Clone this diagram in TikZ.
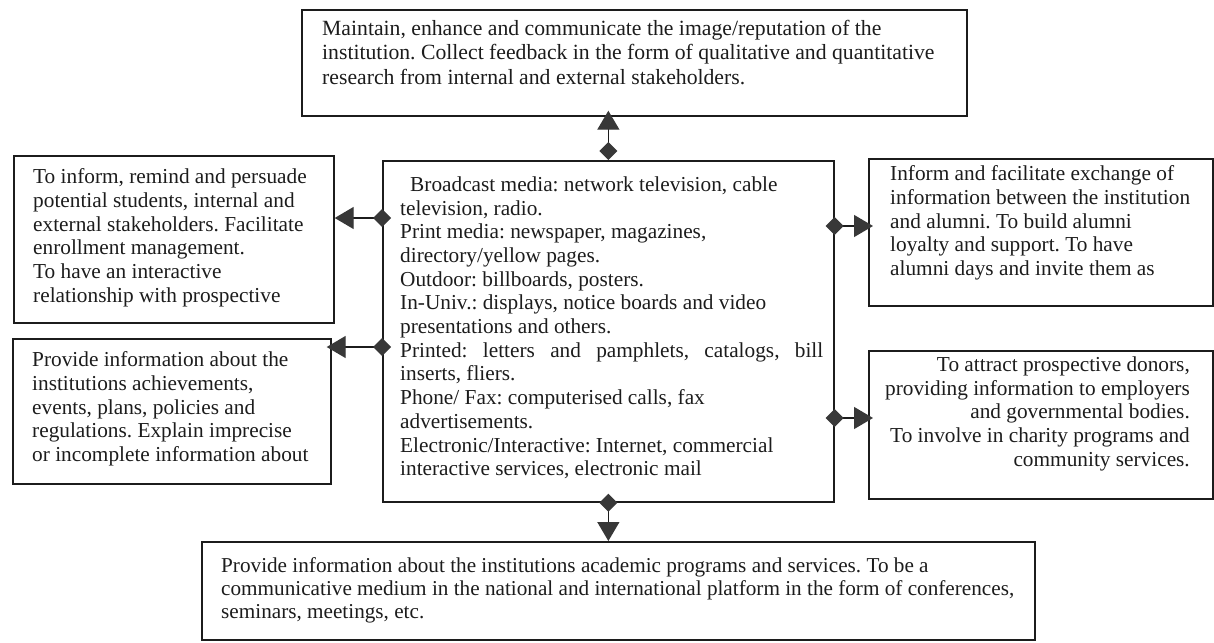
\documentclass[tikz,border=0pt]{standalone}
\usepackage{fontspec}
\setmainfont{Liberation Serif}
\usetikzlibrary{arrows.meta}
\definecolor{ink}{HTML}{1C1C1C}
\definecolor{tipgray}{HTML}{383838}
\frenchspacing
\begin{document}
\begin{tikzpicture}[x=1pt,y=-1pt,
  frame/.style={draw=ink, line width=1.7pt, inner sep=0pt, anchor=north west},
  txt/.style={inner sep=0pt, text=ink, align=left, anchor=north west,
    font=\fontsize{21.3}{23.7}\selectfont, execute at begin node=\strut},
  link/.style={draw=ink, line width=1.4pt,
    {Diamond[length=18pt,width=18pt,color=tipgray,fill=tipgray]}-{Triangle[length=19pt,width=22pt,color=tipgray,fill=tipgray]}},
]
\useasboundingbox (0,0) rectangle (1214,642);

% frames
\node[frame, minimum width=665pt, minimum height=106pt] (top)    at (301,9)   {};
\node[frame, minimum width=320pt, minimum height=167pt] (ltop)   at (13,155)  {};
\node[frame, minimum width=318pt, minimum height=145pt] (lbot)   at (12,338)  {};
\node[frame, minimum width=451pt, minimum height=341pt] (center) at (382,160) {};
\node[frame, minimum width=344pt, minimum height=147pt] (rtop)   at (868,158) {};
\node[frame, minimum width=344pt, minimum height=148pt] (rbot)   at (868,350) {};
\node[frame, minimum width=833pt, minimum height=98pt]  (bot)    at (201,541) {};

% texts
\node[txt, font=\fontsize{21.7}{24.5}\selectfont] (toptext) at (322,19.9)
  {Maintain, enhance and communicate the image/reputation of the\\
   institution. Collect feedback in the form of qualitative and quantitative\\
   research from internal and external stakeholders.};

\node[txt] (ltoptext) at (33,168.4)
  {To inform, remind and persuade\\
   potential students, internal and\\
   external stakeholders. Facilitate\\
   enrollment management.\\
   To have an interactive\\
   relationship with prospective};

\node[txt] (lbottext) at (32,351.4)
  {Provide information about the\\
   institutions achievements,\\
   events, plans, policies and\\
   regulations. Explain imprecise\\
   or incomplete information about};

\node[txt] (centertext) at (400,176.4)
  {\hspace*{10pt}Broadcast media: network television, cable\\
   television, radio.\\
   Print media: newspaper, magazines,\\
   directory/yellow pages.\\
   Outdoor: billboards, posters.\\
   In-Univ.: displays, notice boards and video\\
   presentations and others.\\
   \makebox[423pt][s]{Printed: letters and pamphlets, catalogs, bill}\\
   inserts, fliers.\\
   Phone/ Fax: computerised calls, fax\\
   advertisements.\\
   Electronic/Interactive: Internet, commercial\\
   interactive services, electronic mail};

\node[txt] (rtoptext) at (890,165.4)
  {Inform and facilitate exchange of\\
   information between the institution\\
   and alumni. To build alumni\\
   loyalty and support. To have\\
   alumni days and invite them as};

\node[txt, align=right, anchor=north east] (rbottext) at (1190,356.4)
  {To attract prospective donors,\\
   providing information to employers\\
   and governmental bodies.\\
   To involve in charity programs and\\
   community services.};

\node[txt, font=\fontsize{21.2}{23.2}\selectfont] (bottext) at (221,557.4)
  {Provide information about the institutions academic programs and services. To be a\\
   communicative medium in the national and international platform in the form of conferences,\\
   seminars, meetings, etc.};

% connectors: diamond at the media box, arrow head at the target box
\draw[link, shorten >=-6pt] (center.north) -- (center.north |- top.south);
\draw[link, shorten <=-9pt] (center.west |- 0,218) -- (ltop.east |- 0,218);
\draw[link, shorten <=-9pt, shorten >=-5pt] (center.west |- 0,347) -- (lbot.east |- 0,347);
\draw[link, shorten <=-9pt, shorten >=-5pt] (center.east |- 0,226) -- (rtop.west |- 0,226);
\draw[link, shorten <=-9pt, shorten >=-5pt] (center.east |- 0,418) -- (rbot.west |- 0,418);
\draw[link, shorten <=-9pt] (center.south) -- (center.south |- bot.north);
\end{tikzpicture}
\end{document}
